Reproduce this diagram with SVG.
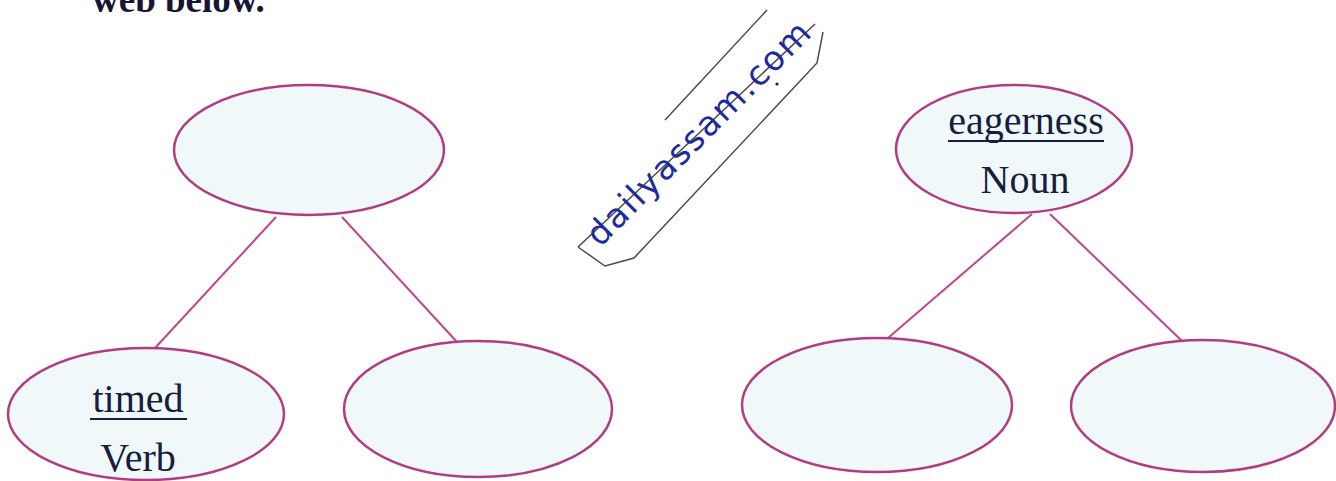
<svg xmlns="http://www.w3.org/2000/svg" width="1336" height="481" viewBox="0 0 1336 481">
<style>
.node{fill:#f1f8fa;stroke:#b23c82;stroke-width:2.5}
.conn{stroke:#c2448e;stroke-width:2;fill:none}
.lbl{font-family:"Liberation Serif","Times New Roman",serif;font-size:40px;fill:#14203e;text-anchor:middle}
.ul{stroke:#14203e;stroke-width:2}
.wm{stroke:#4a4a4a;stroke-width:1.5;fill:none}
</style>
<rect width="1336" height="481" fill="#ffffff"/>
<text x="92" y="12" font-family="Liberation Serif,serif" font-weight="bold" font-size="37" fill="#161634">web below.</text>
<g id="connectors">
<line class="conn" x1="276" y1="217" x2="155" y2="348"/>
<line class="conn" x1="342" y1="217" x2="457" y2="342"/>
<line class="conn" x1="1032" y1="214" x2="888" y2="338"/>
<line class="conn" x1="1050" y1="214" x2="1182" y2="341"/>
</g>
<g id="n-top-left"><ellipse class="node" cx="309" cy="150" rx="135" ry="65"/></g>
<g id="n-timed"><ellipse class="node" cx="146" cy="414" rx="138" ry="66"/>
<text class="lbl" x="138" y="412">timed</text><line class="ul" x1="90" y1="419" x2="187" y2="419"/>
<text class="lbl" x="138" y="471">Verb</text></g>
<g id="n-bottom-mid"><ellipse class="node" cx="478" cy="409" rx="134" ry="68"/></g>
<g id="n-eagerness"><ellipse class="node" cx="1014" cy="149" rx="118" ry="64"/>
<text class="lbl" x="1026" y="134">eagerness</text><line class="ul" x1="948" y1="141" x2="1104" y2="141"/>
<text class="lbl" x="1025" y="193">Noun</text></g>
<g id="n-bottom-r1"><ellipse class="node" cx="877" cy="405" rx="135" ry="67"/></g>
<g id="n-bottom-r2"><ellipse class="node" cx="1203" cy="406" rx="132" ry="66"/></g>
<g id="watermark">
<line class="wm" x1="665" y1="120" x2="767" y2="10"/>
<line class="wm" x1="578" y1="247" x2="815" y2="24"/>
<path class="wm" d="M578 247 L605 266 L634 258 L817 63 L823 32"/>
<circle cx="777" cy="84" r="1.6" fill="#222"/>
<text x="0" y="0" transform="translate(600 248) rotate(-45)" font-family="DejaVu Sans,sans-serif" font-size="34" letter-spacing="2" fill="#1e2b9c">dailyassam.com</text>
</g>
</svg>
